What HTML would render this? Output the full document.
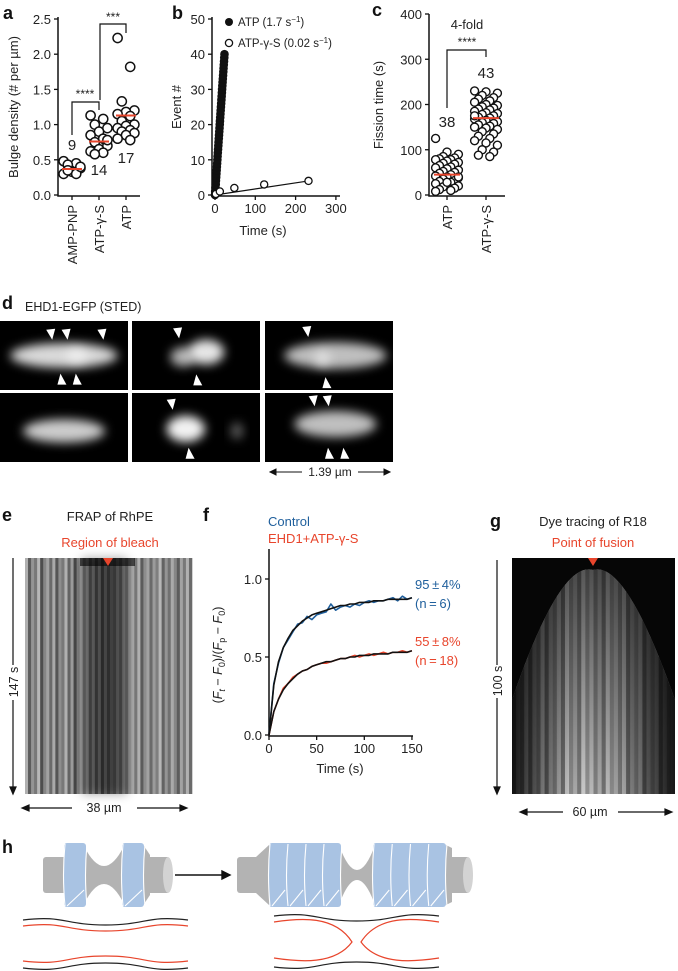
<!DOCTYPE html>
<html><head><meta charset="utf-8"><style>
html,body{margin:0;padding:0;background:#fff;}
svg{display:block;font-family:"Liberation Sans",Arial,sans-serif;}
.tk{font-size:13px;fill:#222}
.lt{font-size:18px;font-weight:bold;fill:#111}
</style></head><body>
<svg id="fig" width="678" height="971" viewBox="0 0 678 971" xmlns="http://www.w3.org/2000/svg">
<defs>
<filter id="blur4" x="-50%" y="-50%" width="200%" height="200%"><feGaussianBlur stdDeviation="5"/></filter>
<clipPath id="gclip"><path d="M512,794 L512,700 Q560,560 593,570 Q626,560 675,700 L675,794 Z"/></clipPath>
<linearGradient id="gfade" x1="0" y1="0" x2="0" y2="1"><stop offset="0" stop-color="#000" stop-opacity="0.6"/><stop offset="1" stop-color="#000" stop-opacity="0"/></linearGradient>
<linearGradient id="gside" x1="0" y1="0" x2="1" y2="0"><stop offset="0" stop-color="#000" stop-opacity="0.8"/><stop offset="0.35" stop-color="#000" stop-opacity="0"/><stop offset="0.65" stop-color="#000" stop-opacity="0"/><stop offset="1" stop-color="#000" stop-opacity="0.8"/></linearGradient>
</defs>
<g id="pa"></g>
<g id="pb"></g>
<g id="pc"></g>
<g id="pd"></g>
<g id="pe"></g>
<g id="pf"></g>
<g id="pg"></g>
<g id="ph"></g>
</svg>
<script>
// ---- Panel a data ----
const aCategories = ["AMP-PNP","ATP-\u03b3-S","ATP"];
const aAmp = [0.48,0.45,0.43,0.38,0.33,0.30,0.30,0.35,0.40];
const aAtpGS = [1.13,1.08,1.00,0.95,0.90,0.85,0.80,0.75,0.70,0.65,0.62,0.60,0.58,0.78];
const aAtp = [2.23,1.82,1.33,1.20,1.18,1.15,1.12,1.05,1.00,0.98,0.95,0.92,0.90,0.88,0.85,0.80,0.78];
const aMeans = [0.37,0.76,1.13];
const aTicks = [0,0.5,1.0,1.5,2.0,2.5];
// ---- Panel b data ----
const bAtpTimes = [0,0.5,1.2,1.8,2.3,2.9,3.5,4.1,4.7,5.3,5.9,6.4,7.0,7.6,8.2,8.8,9.4,10.0,10.6,11.2,11.8,12.3,12.9,13.5,14.1,14.7,15.3,15.9,16.5,17.1,17.6,18.2,18.8,19.4,20.0,20.6,21.2,21.8,22.4,23.0,23.5];
const bAtpEvents = [0,1,2,3,4,5,6,7,8,9,10,11,12,13,14,15,16,17,18,19,20,21,22,23,24,25,26,27,28,29,30,31,32,33,34,35,36,37,38,39,40];
const bGsTimes = [2,12,48,122,232];
const bGsEvents = [0.3,1,2,3,4];
const bYTicks = [0,10,20,30,40,50];
const bXTicks = [0,100,200,300];
// ---- Panel c data ----
const cCategories = ["ATP","ATP-\u03b3-S"];
const cAtp = [125,95,90,85,82,80,78,78,75,72,70,68,65,62,60,58,55,52,50,48,45,42,40,38,35,32,30,28,25,22,20,18,15,12,10,8,28,40];
const cAtpGS = [230,228,225,220,215,212,208,205,200,198,195,192,190,188,185,182,180,178,175,172,170,168,165,162,160,158,155,152,150,148,145,140,135,130,125,120,115,110,100,95,88,85,175];
const cMeans = [45,170];
const cTicks = [0,100,200,300,400];
// ---- Panel f data ----
const fTimes = [0,5,10,15,20,25,30,35,40,45,50,55,60,65,70,75,80,85,90,95,100,105,110,115,120,125,130,135,140,145,150];
const fControl = [0,0.33,0.46,0.56,0.61,0.66,0.71,0.72,0.76,0.74,0.77,0.78,0.79,0.84,0.80,0.82,0.83,0.82,0.84,0.83,0.85,0.86,0.85,0.86,0.86,0.87,0.88,0.86,0.89,0.87,0.88];
const fControlFit = [0,0.32,0.47,0.56,0.62,0.67,0.70,0.73,0.75,0.77,0.78,0.79,0.80,0.81,0.82,0.83,0.83,0.84,0.84,0.85,0.85,0.85,0.86,0.86,0.86,0.87,0.87,0.87,0.87,0.87,0.88];
const fGS = [0,0.15,0.23,0.30,0.33,0.37,0.39,0.41,0.42,0.44,0.45,0.46,0.46,0.47,0.48,0.49,0.49,0.50,0.51,0.50,0.51,0.52,0.51,0.52,0.53,0.52,0.53,0.53,0.54,0.53,0.54];
const fGSFit = [0,0.15,0.23,0.29,0.33,0.36,0.39,0.41,0.42,0.44,0.45,0.46,0.47,0.47,0.48,0.49,0.49,0.50,0.50,0.51,0.51,0.51,0.52,0.52,0.52,0.52,0.53,0.53,0.53,0.53,0.54];
const fXTicks = [0,50,100,150];
const fYTicks = [0,0.5,1.0];

const NS="http://www.w3.org/2000/svg";
function mk(parent,tag,attrs,text){const e=document.createElementNS(NS,tag);for(const k in attrs)e.setAttribute(k,attrs[k]);if(text!==undefined)e.textContent=text;parent.appendChild(e);return e;}
const RED="#e8452c", BLUE="#1f5f9c";
function fmt1(v){return v.toFixed(1);}

// ===== Panel a =====
(function(){
const g=document.getElementById('pa');
const yA=v=>195-v*70.4; const xA=i=>72+i*27;
let t=mk(g,'text',{x:3,y:19,class:'lt'},'a');


let ax=mk(g,'path',{d:'M58,17 L58,196 L140,196',stroke:'#111','stroke-width':1.5,fill:'none'});


aTicks.forEach(v=>{
 let l=mk(g,'line',{x1:54,x2:58,y1:yA(v),y2:yA(v),stroke:'#111','stroke-width':1.3});
 
 
 let tx=mk(g,'text',{x:51,y:yA(v)+5,class:'tk','text-anchor':'end'},fmt1(v));
 
 
});
let yl=mk(g,'text',{transform:'translate(18,107) rotate(-90)',class:'tk','text-anchor':'middle'},'Bulge density (# per \u00b5m)');


const series=[aAmp,aAtpGS,aAtp];
series.forEach((arr,si)=>{
 let xl=mk(g,'line',{x1:xA(si),x2:xA(si),y1:196,y2:200,stroke:'#111','stroke-width':1.3});
 
 
 let lab=mk(g,'text',{transform:`translate(${xA(si)+5},205) rotate(-90)`,class:'tk','text-anchor':'end'},aCategories[si]);
 
 
 arr.forEach((v,i)=>{
  const off=((i*3)%5-2)*4.2;
  let c=mk(g,'circle',{cx:xA(si)+off,cy:yA(v),r:4.6,fill:'#fff',stroke:'#111','stroke-width':1.5});
  
  
 });
 let m=mk(g,'line',{x1:xA(si)-10,x2:xA(si)+10,y1:yA(aMeans[si]),y2:yA(aMeans[si]),stroke:RED,'stroke-width':2});
 
 
});
const nLab=[[72,150,'9'],[99,175,'14'],[126,163,'17']];
nLab.forEach(n=>{let e=mk(g,'text',{x:n[0],y:n[1],'font-size':'15px','text-anchor':'middle',fill:'#222'},n[2]);
 
 });
let b1=mk(g,'path',{d:'M72,135 L72,102 L99,102 L99,110',stroke:'#111','stroke-width':1.2,fill:'none'});


let s1=mk(g,'text',{x:85,y:98,'font-size':'12px','text-anchor':'middle',fill:'#222'},'****');


let b2=mk(g,'path',{d:'M100,100 L100,24 L126,24 L126,33',stroke:'#111','stroke-width':1.2,fill:'none'});


let s2=mk(g,'text',{x:113,y:21,'font-size':'12px','text-anchor':'middle',fill:'#222'},'***');


})();

// ===== Panel b =====
(function(){
const g=document.getElementById('pb');
const yB=v=>195-v*3.52; const xB=v=>215+v*0.403;
let t=mk(g,'text',{x:172,y:19,class:'lt'},'b');


let ax=mk(g,'path',{d:'M212,17 L212,196 L340,196',stroke:'#111','stroke-width':1.5,fill:'none'});


bYTicks.forEach(v=>{
 let l=mk(g,'line',{x1:208,x2:212,y1:yB(v),y2:yB(v),stroke:'#111','stroke-width':1.3});
 
 
 let tx=mk(g,'text',{x:205,y:yB(v)+5,class:'tk','text-anchor':'end'},String(v));
 
 
});
bXTicks.forEach(v=>{
 let l=mk(g,'line',{x1:xB(v),x2:xB(v),y1:196,y2:200,stroke:'#111','stroke-width':1.3});
 
 
 let tx=mk(g,'text',{x:xB(v),y:213,class:'tk','text-anchor':'middle'},String(v));
 
 
});
let yl=mk(g,'text',{transform:'translate(181,107) rotate(-90)',class:'tk','text-anchor':'middle'},'Event #');


let xl=mk(g,'text',{x:263,y:235,class:'tk','text-anchor':'middle'},'Time (s)');


const n=bGsTimes.length-1;
let fit=mk(g,'line',{x1:xB(0),y1:yB(0),x2:xB(bGsTimes[n]),y2:yB(bGsEvents[n]),stroke:'#111','stroke-width':1.2});


bAtpTimes.forEach((tm,i)=>{
 let c=mk(g,'circle',{cx:xB(tm),cy:yB(bAtpEvents[i]),r:4.3,fill:'#111'});
 
 
});
bGsTimes.forEach((tm,i)=>{
 let c=mk(g,'circle',{cx:xB(tm),cy:yB(bGsEvents[i]),r:3.6,fill:'#fff',stroke:'#111','stroke-width':1.3});
 
 
});
let lc1=mk(g,'circle',{cx:229,cy:22,r:4,fill:'#111'});


let lt1=mk(g,'text',{x:238,y:26,'font-size':'11.5px',fill:'#222'});


lt1.innerHTML='ATP (1.7 s<tspan dy="-4" font-size="8">\u22121</tspan><tspan dy="4">)</tspan>';
let lc2=mk(g,'circle',{cx:229,cy:43,r:3.6,fill:'#fff',stroke:'#111','stroke-width':1.3});


let lt2=mk(g,'text',{x:238,y:47,'font-size':'11.5px',fill:'#222'});


lt2.innerHTML='ATP-\u03b3-S (0.02 s<tspan dy="-4" font-size="8">\u22121</tspan><tspan dy="4">)</tspan>';
})();

// ===== Panel c =====
(function(){
const g=document.getElementById('pc');
const yC=v=>195-v*0.4525; const xC=i=>447+i*39;
let t=mk(g,'text',{x:372,y:16,class:'lt'},'c');


let ax=mk(g,'path',{d:'M429,14 L429,196 L505,196',stroke:'#111','stroke-width':1.5,fill:'none'});


cTicks.forEach(v=>{
 let l=mk(g,'line',{x1:425,x2:429,y1:yC(v),y2:yC(v),stroke:'#111','stroke-width':1.3});
 
 
 let tx=mk(g,'text',{x:422,y:yC(v)+5,class:'tk','text-anchor':'end'},String(v));
 
 
});
let yl=mk(g,'text',{transform:'translate(383,105) rotate(-90)',class:'tk','text-anchor':'middle'},'Fission time (s)');


[cAtp,cAtpGS].forEach((arr,si)=>{
 let xl=mk(g,'line',{x1:xC(si),x2:xC(si),y1:196,y2:200,stroke:'#111','stroke-width':1.3});
 
 
 let lab=mk(g,'text',{transform:`translate(${xC(si)+5},205) rotate(-90)`,class:'tk','text-anchor':'end'},cCategories[si]);
 
 
 arr.forEach((v,i)=>{
  const off=((i*3)%7-3)*3.8;
  let c=mk(g,'circle',{cx:xC(si)+off,cy:yC(v),r:4,fill:'#fff',stroke:'#111','stroke-width':1.4});
  
  
 });
 let m=mk(g,'line',{x1:xC(si)-13,x2:xC(si)+13,y1:yC(cMeans[si]),y2:yC(cMeans[si]),stroke:RED,'stroke-width':2});
 
 
});
let n1=mk(g,'text',{x:447,y:127,'font-size':'15px','text-anchor':'middle',fill:'#222'},'38');


let n2=mk(g,'text',{x:486,y:78,'font-size':'15px','text-anchor':'middle',fill:'#222'},'43');


let br=mk(g,'path',{d:'M447,108 L447,50 L486,50 L486,57',stroke:'#111','stroke-width':1.2,fill:'none'});


let st=mk(g,'text',{x:467,y:46,'font-size':'12px','text-anchor':'middle',fill:'#222'},'****');


let f4=mk(g,'text',{x:467,y:29,'font-size':'13px','text-anchor':'middle',fill:'#222'},'4-fold');


})();

// ===== Panel d =====
(function(){
const g=document.getElementById('pd');
let t=mk(g,'text',{x:2,y:309,class:'lt'},'d');


let tt=mk(g,'text',{x:25,y:311,'font-size':'12.5px',fill:'#222'},'EHD1-EGFP (STED)');


const cols=[0,132,265], rows=[321,393], W=128, H=69;
const blobs=[
 [[[0.5,0.5,0.42,0.18,0.85],[0.6,0.5,0.08,0.12,0.5]],[[0.58,0.45,0.14,0.18,0.9],[0.4,0.52,0.1,0.14,0.7]],[[0.55,0.5,0.4,0.19,0.75],[0.45,0.55,0.06,0.12,0.5]]],
 [[[0.5,0.55,0.32,0.17,0.8]],[[0.42,0.52,0.15,0.19,0.95],[0.82,0.55,0.05,0.12,0.35]],[[0.55,0.45,0.32,0.19,0.75]]]
];
const arrows=[
 [[[0.4,0.2,1],[0.52,0.2,1],[0.8,0.2,1],[0.48,0.85,0],[0.6,0.85,0]],[[0.36,0.18,1],[0.51,0.86,0]],[[0.33,0.16,1],[0.48,0.9,0]]],
 [[],[[0.31,0.17,1],[0.45,0.88,0]],[[0.38,0.12,1],[0.49,0.12,1],[0.5,0.88,0],[0.62,0.88,0]]]
];
rows.forEach((ry,ri)=>cols.forEach((cx,ci)=>{
 const pg=mk(g,'g',{});
 
 
 mk(pg,'rect',{x:cx,y:ry,width:W,height:H,fill:'#000'});
 const cp='dc'+ri+ci;
 const clip=mk(document.querySelector('defs'),'clipPath',{id:cp});
 mk(clip,'rect',{x:cx,y:ry,width:W,height:H});
 const bg=mk(pg,'g',{'clip-path':`url(#${cp})`});
 blobs[ri][ci].forEach(b=>{
  mk(bg,'ellipse',{cx:cx+b[0]*W,cy:ry+b[1]*H,rx:b[2]*W,ry:b[3]*H,fill:'#fff','fill-opacity':b[4],filter:'url(#blur4)'});
 });
 arrows[ri][ci].forEach(a=>{
  const x=cx+a[0]*W,y=ry+a[1]*H;
  const d=a[2]?`M${x-5},${y-5} L${x+4},${y-6} L${x+1},${y+5} Z`:`M${x-4},${y+5} L${x+5},${y+5} L${x-1},${y-6} Z`;
  let ar=mk(pg,'path',{d:d,fill:'#fff'});
  
  
 });
}));
let sb=mk(g,'text',{x:330,y:476,'font-size':'12px','text-anchor':'middle',fill:'#222'},'1.39 \u00b5m');


let sa=mk(g,'path',{d:'M270,472 L302,472 M358,472 L390,472 M270,472 l6,-3 v6 z M390,472 l-6,-3 v6 z',stroke:'#111','stroke-width':1,fill:'#111'});


})();

// ===== Panel e =====
(function(){
const g=document.getElementById('pe');
let t=mk(g,'text',{x:2,y:521,class:'lt'},'e');


let tt=mk(g,'text',{x:110,y:521,'font-size':'13px','text-anchor':'middle',fill:'#222'},'FRAP of RhPE');


let rt=mk(g,'text',{x:110,y:547,'font-size':'13px','text-anchor':'middle',fill:RED},'Region of bleach');


const im=mk(g,'g',{});


const x0=25,x1=192,y0=558,y1=794;
mk(im,'rect',{x:x0,y:y0,width:x1-x0,height:y1-y0,fill:'#6a6a6a'});
const sh=[0.9,0.3,0.7,0.5,0.95,0.2,0.6,0.8,0.4,0.85,0.25,0.65,0.5,0.9,0.35,0.75,0.15,0.55,0.8,0.45,0.7,0.3,0.6,0.2,0.5,0.1,0.4,0.15,0.35,0.25,0.5,0.3,0.6,0.4,0.7,0.85,0.5,0.9,0.3,0.65,0.8,0.4,0.75,0.55,0.95,0.35,0.7,0.45,0.85,0.6,0.3,0.8,0.5,0.9,0.4];
const sw=(x1-x0)/sh.length;
sh.forEach((v,i)=>{const c=Math.round(50+v*140);mk(im,'rect',{x:x0+i*sw,y:y0,width:sw+0.3,height:y1-y0,fill:`rgb(${c},${c},${c})`});});
mk(im,'rect',{x:82,y:y0,width:45,height:y1-y0,fill:'#000','fill-opacity':0.35,filter:'url(#blur4)'});
mk(im,'rect',{x:80,y:y0,width:55,height:8,fill:'#000','fill-opacity':0.6});
let tri=mk(g,'path',{d:'M103,558 L113,558 L108,566 Z',fill:RED});


let va=mk(g,'path',{d:'M13,558 L13,665 M13,700 L13,790 M13,794 l-3,-7 h6 z',stroke:'#111','stroke-width':1.2,fill:'#111'});


let vl=mk(g,'text',{transform:'translate(18,682) rotate(-90)','font-size':'12.5px','text-anchor':'middle',fill:'#222'},'147 s');


let ha=mk(g,'path',{d:'M22,808 L72,808 M137,808 L187,808 M22,808 l7,-3 v6 z M187,808 l-7,-3 v6 z',stroke:'#111','stroke-width':1.2,fill:'#111'});


let hl=mk(g,'text',{x:104,y:812,'font-size':'12.5px','text-anchor':'middle',fill:'#222'},'38 \u00b5m');


})();

// ===== Panel f =====
(function(){
const g=document.getElementById('pf');
const xF=v=>269+v*0.953; const yF=v=>735-v*156;
let t=mk(g,'text',{x:203,y:521,class:'lt'},'f');


let l1=mk(g,'text',{x:268,y:526,'font-size':'13px',fill:BLUE},'Control');


let l2=mk(g,'text',{x:268,y:543,'font-size':'13px',fill:RED},'EHD1+ATP-\u03b3-S');


let ax=mk(g,'path',{d:'M269,549 L269,736 L413,736',stroke:'#111','stroke-width':1.5,fill:'none'});


fYTicks.forEach(v=>{
 let l=mk(g,'line',{x1:265,x2:269,y1:yF(v),y2:yF(v),stroke:'#111','stroke-width':1.3});
 
 
 let tx=mk(g,'text',{x:262,y:yF(v)+5,class:'tk','text-anchor':'end'},fmt1(v));
 
 
});
fXTicks.forEach(v=>{
 let l=mk(g,'line',{x1:xF(v),x2:xF(v),y1:736,y2:740,stroke:'#111','stroke-width':1.3});
 
 
 let tx=mk(g,'text',{x:xF(v),y:753,class:'tk','text-anchor':'middle'},String(v));
 
 
});
let xl=mk(g,'text',{x:340,y:773,class:'tk','text-anchor':'middle'},'Time (s)');


let yl=mk(g,'text',{transform:'translate(222,655) rotate(-90)','font-size':'12.5px','text-anchor':'middle',fill:'#222'});


yl.innerHTML='(<tspan font-style="italic">F</tspan><tspan font-size="9" dy="3" font-style="italic">t</tspan><tspan dy="-3"> \u2212 </tspan><tspan font-style="italic">F</tspan><tspan font-size="9" dy="3">0</tspan><tspan dy="-3">)/(</tspan><tspan font-style="italic">F</tspan><tspan font-size="9" dy="3">p</tspan><tspan dy="-3"> \u2212 </tspan><tspan font-style="italic">F</tspan><tspan font-size="9" dy="3">0</tspan><tspan dy="-3">)</tspan>';
function line(arr,color,w,name){
 const d=arr.map((v,i)=>(i?'L':'M')+xF(fTimes[i]).toFixed(1)+','+yF(v).toFixed(1)).join(' ');
 let p=mk(g,'path',{d:d,stroke:color,'stroke-width':w,fill:'none','stroke-linejoin':'round'});
 
 
}
line(fControl,BLUE,1.6,'f-control-trace');
line(fGS,RED,1.6,'f-atp-gs-trace');
line(fControlFit,'#111',1.6,'f-control-fit');
line(fGSFit,'#111',1.6,'f-atp-gs-fit');
const ann=[[589,'95\u2009\u00b1\u20094%',BLUE],[608,'(n\u2009=\u20096)',BLUE],[646,'55\u2009\u00b1\u20098%',RED],[665,'(n\u2009=\u200918)',RED]];
ann.forEach(a=>{let e=mk(g,'text',{x:415,y:a[0],'font-size':'13px',fill:a[2]},a[1]);
 
 });
})();

// ===== Panel g =====
(function(){
const g=document.getElementById('pg');
let t=mk(g,'text',{x:490,y:527,class:'lt'},'g');


let tt=mk(g,'text',{x:593,y:526,'font-size':'13px','text-anchor':'middle',fill:'#222'},'Dye tracing of R18');


let rt=mk(g,'text',{x:593,y:547,'font-size':'13px','text-anchor':'middle',fill:RED},'Point of fusion');


const im=mk(g,'g',{});


mk(im,'rect',{x:512,y:558,width:163,height:236,fill:'#060606'});
const st=mk(im,'g',{'clip-path':'url(#gclip)'});
mk(st,'rect',{x:512,y:558,width:163,height:236,fill:'#5a5a5a'});
const sh=[0.3,0.6,0.4,0.8,0.35,0.7,0.5,0.9,0.4,0.75,0.55,0.85,0.45,0.95,0.6,0.8,0.5,1,0.65,0.9,0.55,0.8,0.45,0.9,0.6,0.75,0.5,0.85,0.4,0.7,0.55,0.8,0.35,0.65,0.5,0.7,0.3,0.6,0.4,0.5];
const sw=163/sh.length;
sh.forEach((v,i)=>{const c=Math.round(40+v*160);mk(st,'rect',{x:512+i*sw,y:558,width:sw+0.3,height:236,fill:`rgb(${c},${c},${c})`});});
mk(st,'rect',{x:512,y:558,width:163,height:236,fill:'url(#gside)'});
mk(st,'rect',{x:512,y:558,width:163,height:236,fill:'url(#gfade)'});
let tri=mk(g,'path',{d:'M588,558 L598,558 L593,566 Z',fill:RED});


let va=mk(g,'path',{d:'M497,560 L497,665 M497,698 L497,790 M497,794 l-3,-7 h6 z',stroke:'#111','stroke-width':1.2,fill:'#111'});


let vl=mk(g,'text',{transform:'translate(502,681) rotate(-90)','font-size':'12.5px','text-anchor':'middle',fill:'#222'},'100 s');


let ha=mk(g,'path',{d:'M520,812 L563,812 M618,812 L672,812 M520,812 l7,-3 v6 z M672,812 l-7,-3 v6 z',stroke:'#111','stroke-width':1.2,fill:'#111'});


let hl=mk(g,'text',{x:590,y:816,'font-size':'12.5px','text-anchor':'middle',fill:'#222'},'60 \u00b5m');


})();

// ===== Panel h =====
(function(){
const g=document.getElementById('ph');
let t=mk(g,'text',{x:2,y:853,class:'lt'},'h');


const GR='#b3b3b3', BL='#a9c3e3';
function coil(parent,x0,x1,n){
 const rg=mk(parent,'g',{});
 
 
 mk(rg,'rect',{x:x0,y:843,width:x1-x0,height:64,rx:3,fill:BL});
 const w=(x1-x0)/n; let d='';
 for(let k=0;k<=n;k++){const x=x0+k*w;d+=`M${x+1},844 Q${x-2},875 ${x+1},906 `; if(k<n) d+=`M${x+3},906 L${x+w-2},890 `;}
 mk(rg,'path',{d:d,stroke:'#fff','stroke-width':1.1,fill:'none'});
}
// left
const L=mk(g,'g',{});


mk(L,'rect',{x:43,y:857,width:24,height:36,rx:3,fill:GR});
mk(L,'rect',{x:141,y:857,width:27,height:36,fill:GR});
mk(L,'ellipse',{cx:168,cy:875,rx:5,ry:18,fill:'#d3d3d3'});
mk(L,'path',{d:'M84,846 Q104,886 124,846 L124,904 Q104,864 84,904 Z',fill:GR});
mk(L,'path',{d:'M144,846 L150,855 L150,895 L144,904 Z',fill:GR});
coil(L,64,86,1);
coil(L,122,144,1);
let ar=mk(g,'path',{d:'M175,875 L222,875 M230,875 l-8,-4 v8 z',stroke:'#111','stroke-width':1.4,fill:'#111'});


// right
const R=mk(g,'g',{});


mk(R,'rect',{x:237,y:857,width:34,height:36,rx:3,fill:GR});
mk(R,'path',{d:'M256,857 L269,845 L269,905 L256,893 Z',fill:GR});
mk(R,'rect',{x:444,y:857,width:24,height:36,fill:GR});
mk(R,'path',{d:'M446,845 L452,848 L452,902 L446,905 Z',fill:GR});
mk(R,'ellipse',{cx:468,cy:875,rx:5,ry:18,fill:'#d3d3d3'});
mk(R,'path',{d:'M339,845 Q357,895 375,845 L375,905 Q357,855 339,905 Z',fill:GR});
coil(R,269,341,4);
coil(R,373,446,4);
// membrane lines
function wav(x0,x1,y,amp,color,name,inv){
 const m=(x0+x1)/2, q=(x1-x0)/4;
 const d=`M${x0},${y} C${x0+q},${y-amp*inv} ${m-q},${y+amp*inv} ${m},${y+amp*inv} C${m+q},${y+amp*inv} ${x1-q},${y-amp*inv} ${x1},${y}`;
 let p=mk(g,'path',{d:d,stroke:color,'stroke-width':1.2,fill:'none'});
 
 
}
wav(23,188,920,5,'#222','h-before-membrane-outer-top',1);
wav(23,188,926,5,RED,'h-before-membrane-inner-top',1);
wav(23,188,961,5,RED,'h-before-membrane-inner-bottom',-1);
wav(23,188,968,5,'#222','h-before-membrane-outer-bottom',-1);
wav(274,439,916,5,'#222','h-after-membrane-outer-top',1);
wav(274,439,967,5,'#222','h-after-membrane-outer-bottom',-1);
[['M274,922 C300,918 335,915 352,942 C335,965 300,962 274,958','h-after-membrane-inner-left'],['M439,922 C413,918 378,915 361,942 C378,965 413,962 439,958','h-after-membrane-inner-right']].forEach(a=>{
 let p=mk(g,'path',{d:a[0],stroke:RED,'stroke-width':1.2,fill:'none'});
 
 
});
})();
</script>
</body></html>
